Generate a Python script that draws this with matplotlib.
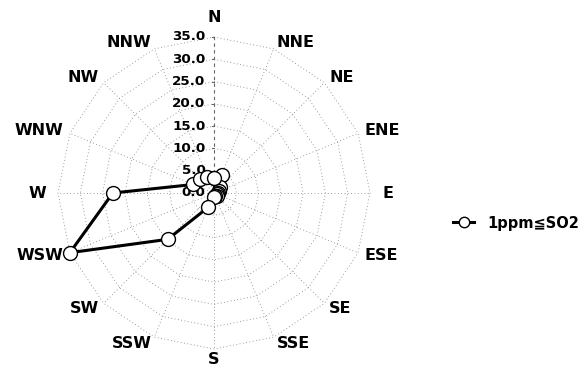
import numpy as np
import matplotlib.pyplot as plt

# wind direction labels, clockwise from north
directions = ['N', 'NNE', 'NE', 'ENE', 'E', 'ESE', 'SE', 'SSE',
              'S', 'SSW', 'SW', 'WSW', 'W', 'WNW', 'NW', 'NNW']
# frequency (%) for SO2 >= 1ppm
so2_freq = [3.4, 4.4, 1.9, 1.2, 0.9, 0.8, 1.0, 0.8,
            0.9, 3.5, 14.7, 35.0, 22.7, 5.0, 4.3, 3.9]
ring_values = [0.0, 5.0, 10.0, 15.0, 20.0, 25.0, 30.0, 35.0]
series_label = '1ppm\u2266SO2'

LBL = ['DejaVu Sans', 'Noto Sans CJK JP']

W, H = 586, 371
cx, cy = 214, 193          # centre in pixels
scale = 156 / 35.0         # pixels per unit

fig = plt.figure(figsize=(W / 100, H / 100), dpi=100)
ax = fig.add_axes([0, 0, 1, 1])
ax.set_xlim(-cx / scale, (W - cx) / scale)
ax.set_ylim(-(H - cy) / scale, cy / scale)
ax.axis('off')

n = len(directions)
ang = np.pi / 2 - np.arange(n) * 2 * np.pi / n
ux, uy = np.cos(ang), np.sin(ang)
rmax = ring_values[-1]

# polygon rings
for r in ring_values[1:]:
    ax.plot(np.append(ux, ux[0]) * r, np.append(uy, uy[0]) * r,
            color='#7f7f7f', lw=0.6, ls=(0, (1, 3)), zorder=1)
# spokes
for i in range(1, n):
    ax.plot([0, ux[i] * rmax], [0, uy[i] * rmax],
            color='#7f7f7f', lw=0.6, ls=(0, (1, 3)), zorder=1)
# value axis along N with ticks
ax.plot([0, 0], [0, rmax], color='#666666', lw=0.8, ls=(0, (3, 3)), zorder=1)
for r in ring_values:
    ax.plot([-0.5, 0], [r, r], color='#666666', lw=0.8, zorder=1)
    ax.text(-1.9, r, '%.1f' % r, ha='right', va='center', fontsize=9.7,
            fontweight='bold', family=LBL, zorder=2)

# direction labels
for i, d in enumerate(directions):
    if d == 'N':
        ax.text(0, 176 / scale, d, ha='center', va='center', fontsize=11.5,
                fontweight='bold', family=LBL)
    elif d == 'S':
        ax.text(0, -167 / scale, d, ha='center', va='center', fontsize=11.5,
                fontweight='bold', family=LBL)
    else:
        rr = 168 / scale if d in ('E', 'W') else 163 / scale
        ha = 'left' if ux[i] > 0 else 'right'
        ax.text(ux[i] * rr, uy[i] * rr, d, ha=ha, va='center', fontsize=11.5,
                fontweight='bold', family=LBL)

# data polygon
vals = np.array(so2_freq)
xs = np.append(ux * vals, ux[0] * vals[0])
ys = np.append(uy * vals, uy[0] * vals[0])
line, = ax.plot(xs, ys, color='black', lw=2.2, marker='o', markersize=10,
                markerfacecolor='white', markeredgecolor='black',
                markeredgewidth=1.0, zorder=3, label=series_label)

leg = fig.legend(handles=[line], labels=[series_label], loc='center left',
                 bbox_to_anchor=(449 / W, 1 - 223 / H), frameon=False,
                 handlelength=1.4, handletextpad=0.9, markerscale=0.75,
                 borderaxespad=0.0, borderpad=0.3,
                 prop={'family': LBL, 'weight': 'bold', 'size': 10.5})

plt.savefig('out.png', dpi=100)
